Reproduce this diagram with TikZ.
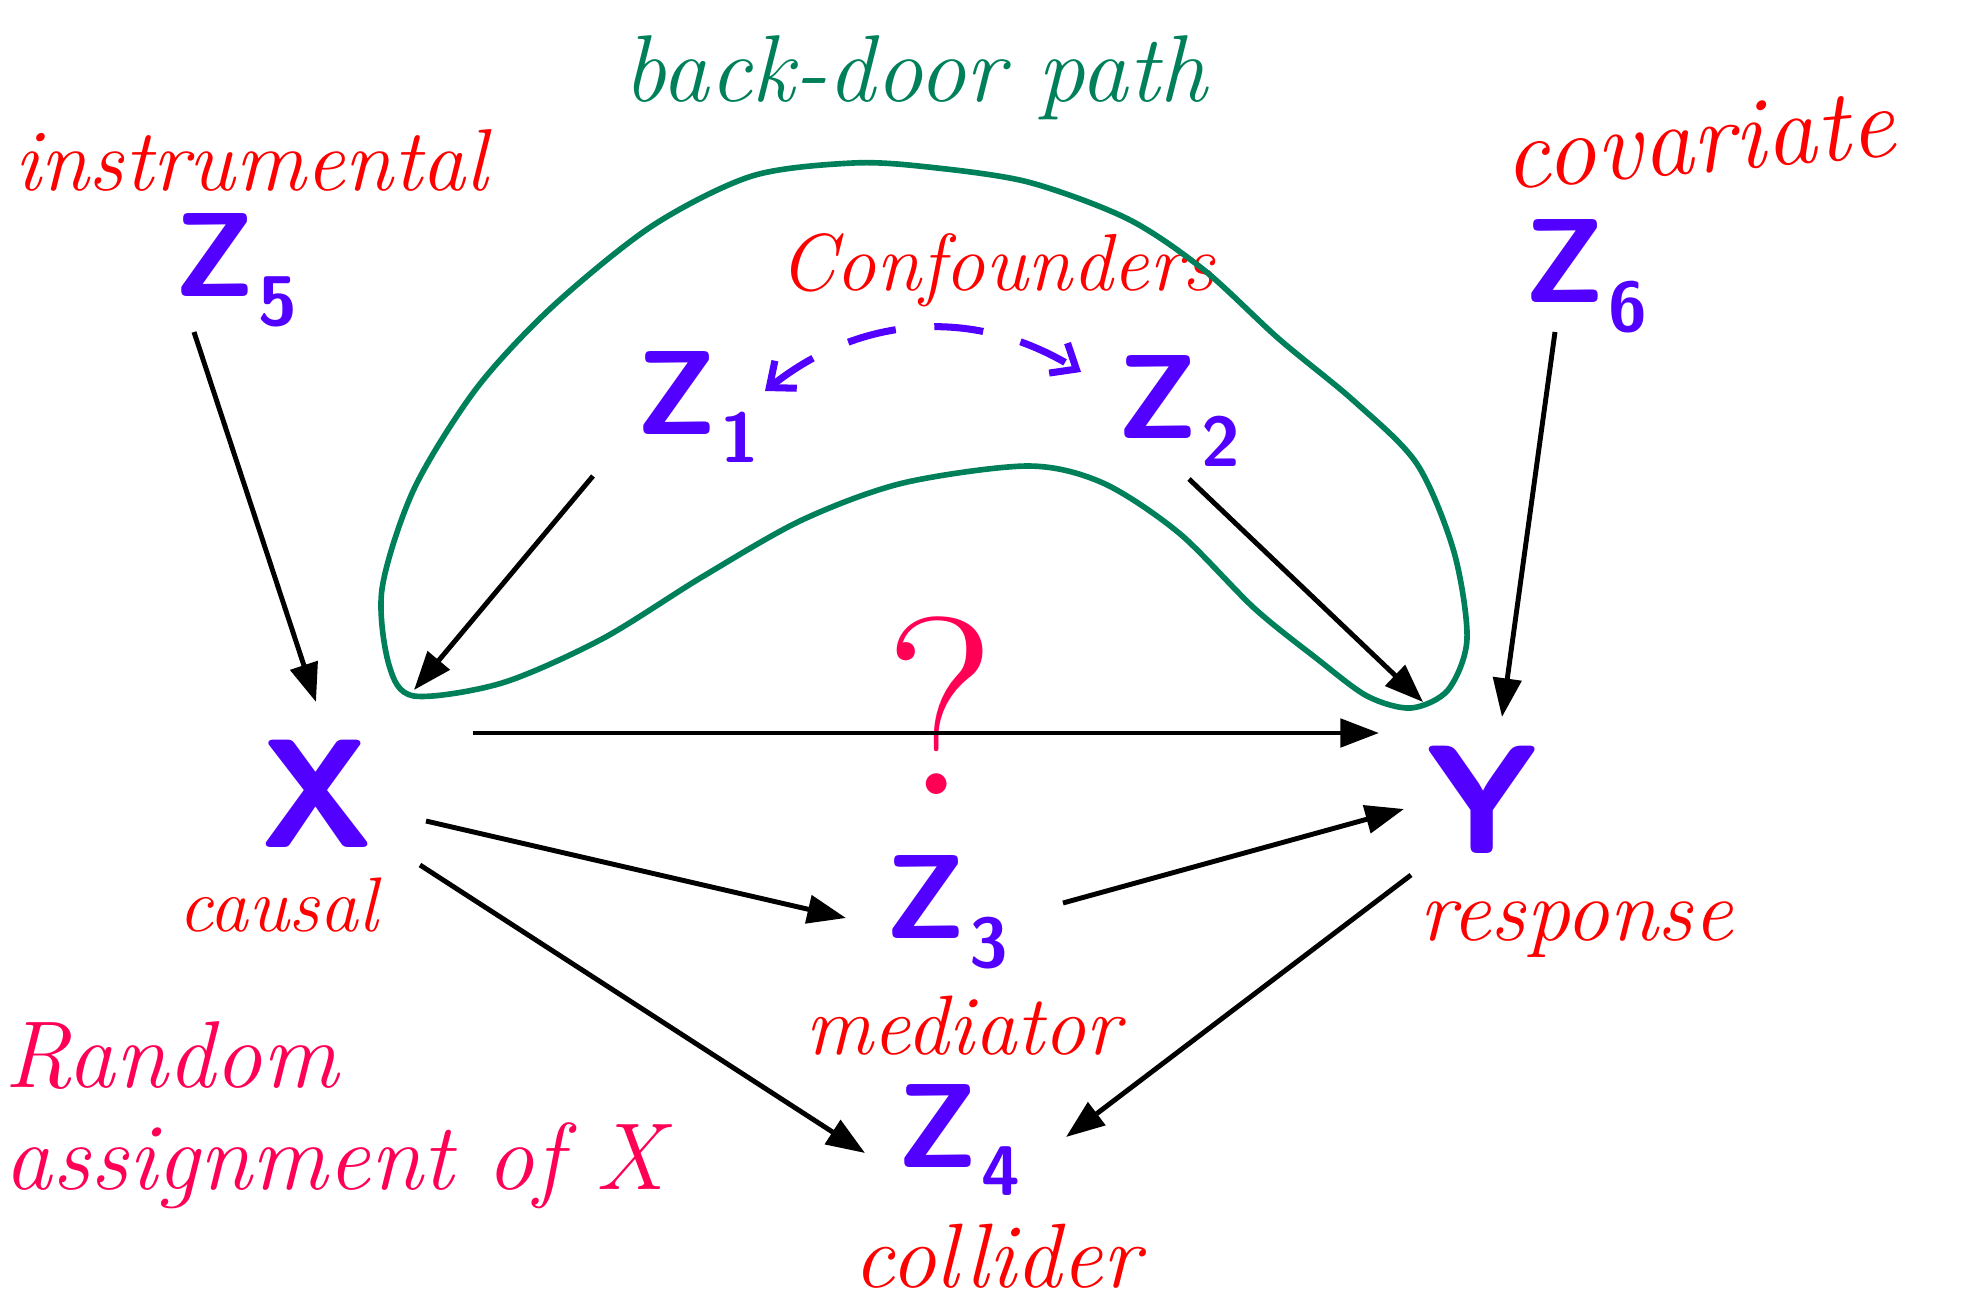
\documentclass[tikz,border=0pt]{standalone}
\usepackage{tikz}
\usetikzlibrary{arrows.meta,calc}
\definecolor{varblue}{HTML}{5200FF}
\definecolor{labred}{HTML}{FF0000}
\definecolor{loopgreen}{HTML}{00805A}
\definecolor{notepink}{HTML}{FF0055}
\newcommand{\zvar}[1]{Z\kern1pt\raisebox{-0.24em}{\fontsize{20}{20}\selectfont #1}}

\begin{document}
\begin{tikzpicture}[
  x=0.01cm, y=-0.01cm,
  var/.style={text=varblue, font=\fontsize{34}{34}\selectfont\sffamily\bfseries, inner sep=0pt},
  bigvar/.style={var, font=\fontsize{44}{44}\selectfont\sffamily\bfseries},
  lab/.style={text=labred, font=\fontsize{25}{25}\selectfont\itshape, inner sep=0pt},
  arr/.style={-{Triangle[length=11pt,width=8pt]}, line width=1.4pt},
  dasharr/.style={{Straight Barb[length=6pt,width=10pt]}-{Straight Barb[length=6pt,width=10pt]},
    draw=varblue, line width=2pt, dash pattern=on 14pt off 11pt},
  bdloop/.style={draw=loopgreen, line width=1.6pt}
]
  \useasboundingbox (0,0) rectangle (1966,1303);

  \node[lab] (instr) at (251,160) {instrumental};
  \node[var] (z5) at (236,270) {\zvar{5}};
  \node[lab, text=loopgreen, font=\fontsize{27}{27}\selectfont\itshape] (bdp) at (915,78) {back-door path};
  \node[lab, rotate=5, font=\fontsize{29}{29}\selectfont\itshape] (covar) at (1699,140) {covariate};
  \node[var] (z6) at (1586,276) {\zvar{6}};
  \node[lab, font=\fontsize{23}{23}\selectfont\itshape] (conf) at (997,270) {Confounders};
  \node[var] (z1) at (698,407) {\zvar{1}};
  \node[var] (z2) at (1179,411) {\zvar{2}};
  \node[bigvar] (x) at (317,794) {X};
  \node[lab, font=\fontsize{22}{22}\selectfont\itshape] (causal) at (278,905) {causal};
  \node[text=notepink, inner sep=0pt, font=\fontsize{72}{72}\selectfont] (quest) at (940,706) {?};
  \node[bigvar] (y) at (1482,800) {Y};
  \node[lab] (resp) at (1576,930) {response};
  \node[var] (z3) at (947,912) {\zvar{3}};
  \node[lab, font=\fontsize{24}{24}\selectfont\itshape] (med) at (963,1026) {mediator};
  \node[var] (z4) at (959,1140) {\zvar{4}};
  \node[lab, font=\fontsize{26}{26}\selectfont\itshape] (coll) at (997,1256) {collider};
  \node[lab, text=notepink, font=\fontsize{27}{29}\selectfont\itshape, align=left, anchor=west]
    (rand) at (4,1115) {Random\\assignment of X};

  \draw[bdloop] plot[smooth cycle] coordinates {
    (853,163) (752,176) (652,226) (552,307) (476,389) (414,489) (382,589) (389,665)
    (414,696) (502,683) (602,639) (702,577) (802,520) (903,483) (1028,466) (1103,483)
    (1179,533) (1254,608) (1316,658) (1367,696) (1411,708) (1448,690) (1467,639)
    (1454,552) (1417,464) (1354,401) (1279,339) (1204,270) (1128,219) (1028,182) (928,167)};

  \draw[dasharr] ([shift={(67,-16)}]z1.center) to[bend left=35] ([shift={(-98,-39)}]z2.center);

  \draw[arr] ([shift={(-42,62)}]z5.center) -- ([shift={(-1,-92)}]x.center);
  \draw[arr] ([shift={(-105,69)}]z1.center) -- ([shift={(97,-104)}]x.center);
  \draw[arr] ([shift={(10,68)}]z2.center) -- ([shift={(-59,-98)}]y.center);
  \draw[arr] ([shift={(-31,56)}]z6.center) -- ([shift={(20,-83)}]y.center);
  \draw[arr] ([shift={(156,-61)}]x.center) -- ([shift={(-103,-67)}]y.center);
  \draw[arr] ([shift={(109,27)}]x.center) -- ([shift={(-101,6)}]z3.center);
  \draw[arr] ([shift={(116,-9)}]z3.center) -- ([shift={(-78,9)}]y.center);
  \draw[arr] ([shift={(103,71)}]x.center) -- ([shift={(-94,13)}]z4.center);
  \draw[arr] ([shift={(-71,75)}]y.center) -- ([shift={(107,-3)}]z4.center);
\end{tikzpicture}
\end{document}
